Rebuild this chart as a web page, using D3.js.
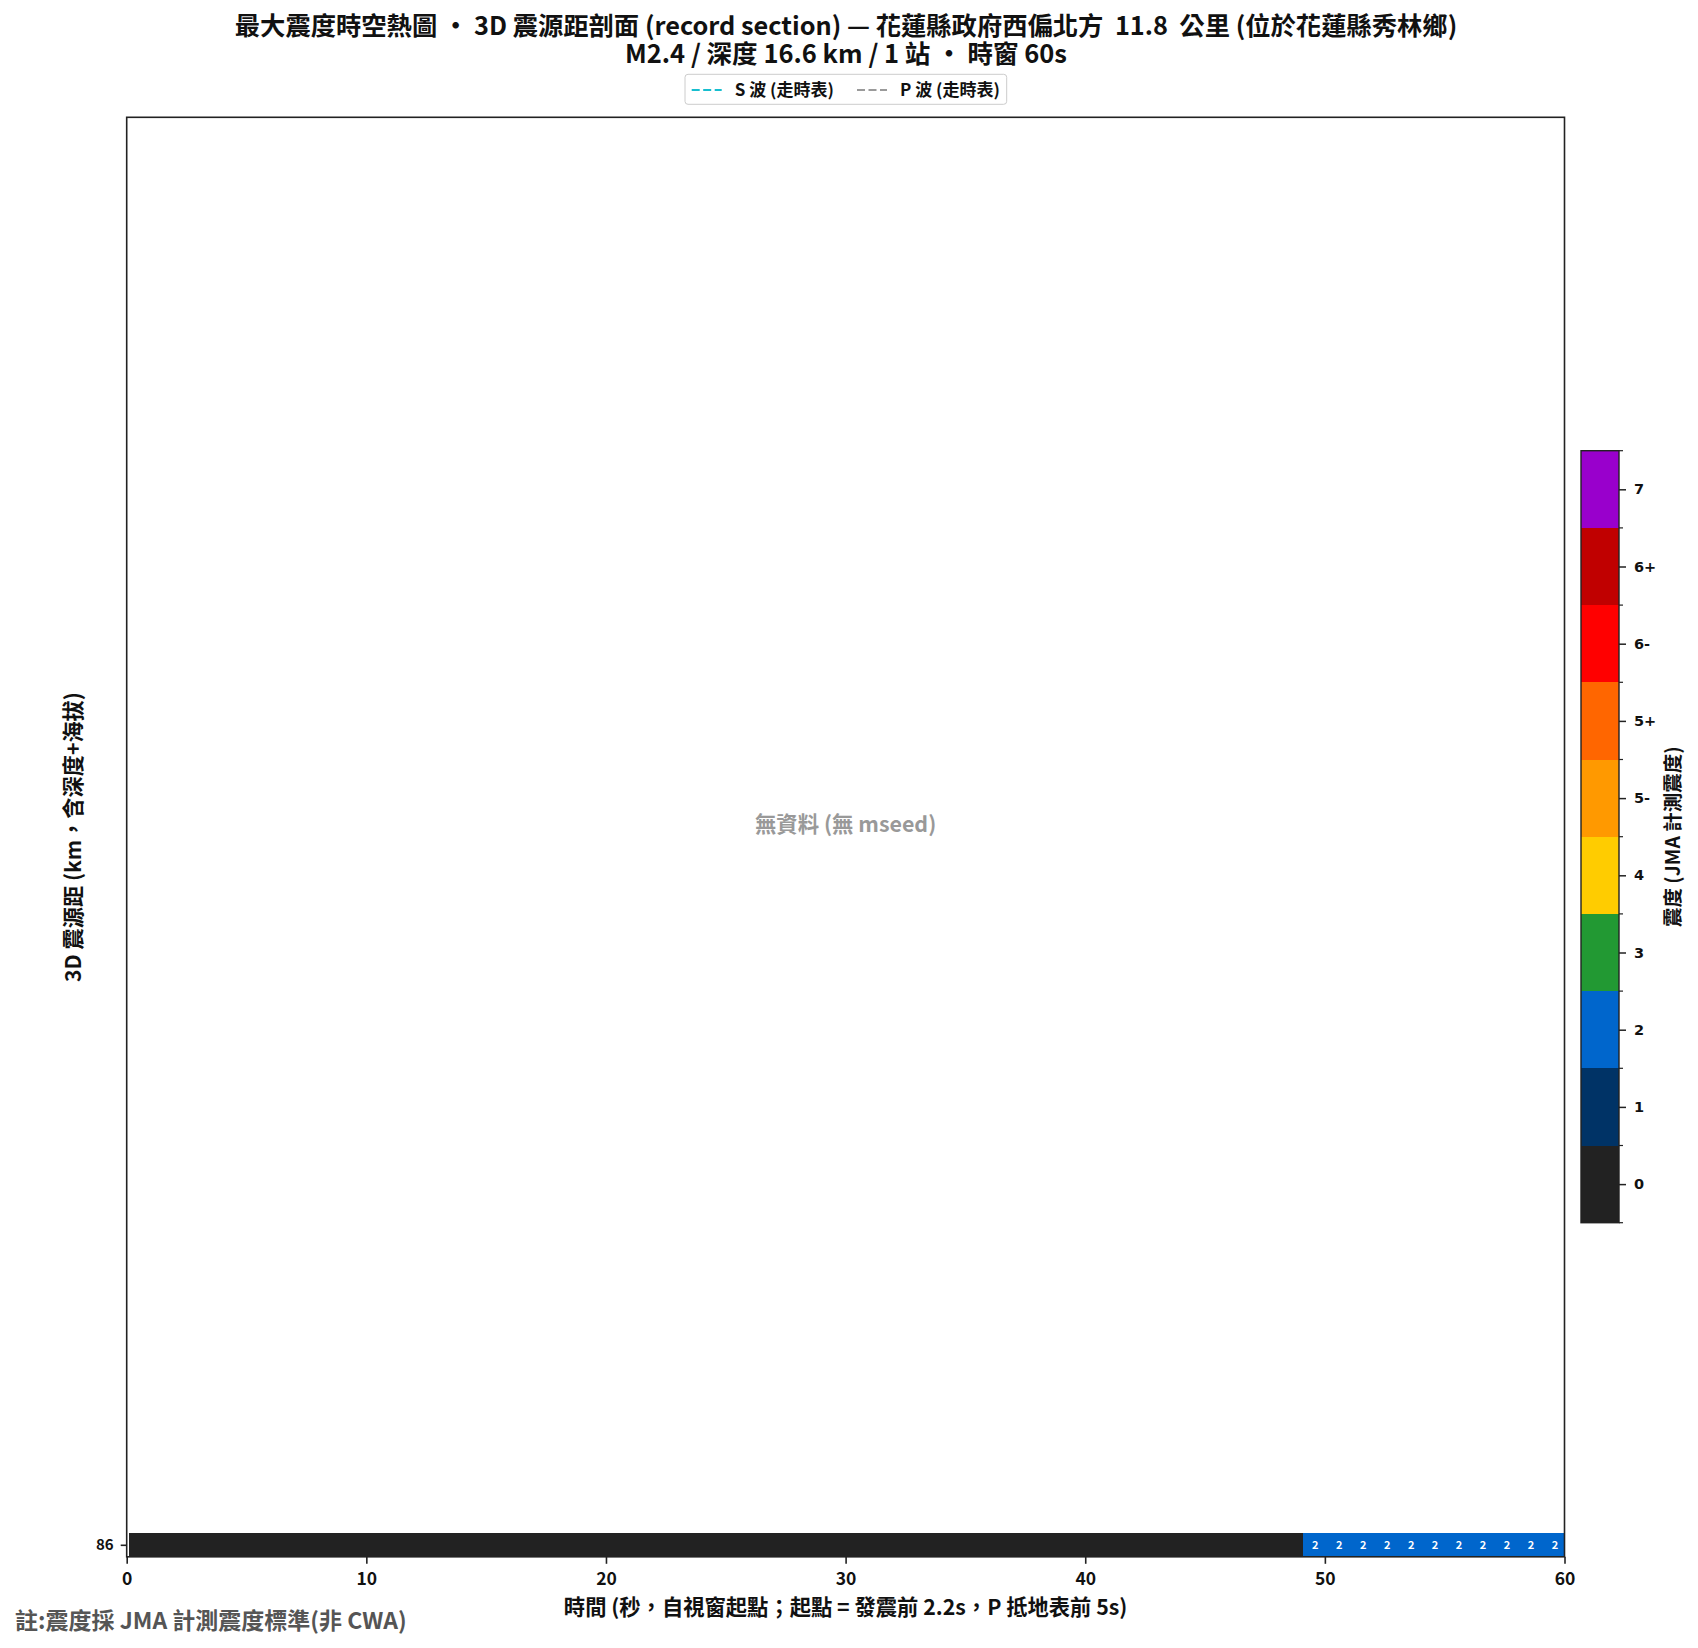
<!DOCTYPE html>
<html>
<head>
<meta charset="utf-8">
<script src="https://cdn.jsdelivr.net/npm/d3@7/dist/d3.min.js"></script>
<style>
  html, body { margin: 0; padding: 0; background: #fff; }
  svg { display: block; }
  text { font-weight: bold; }
</style>
</head>
<body>
<svg id="chart" width="1698" height="1648"></svg>
<script>
// ---------------- DATA ----------------
const titleLine1 = "最大震度時空熱圖 ・ 3D 震源距剖面 (record section) — 花蓮縣政府西偏北方  11.8  公里 (位於花蓮縣秀林鄉)";
const titleLine2 = "M2.4 / 深度 16.6 km / 1 站 ・ 時窗 60s";
const xLabel = "時間 (秒，自視窗起點；起點 = 發震前 2.2s，P 抵地表前 5s)";
const yLabel = "3D 震源距 (km，含深度+海拔)";
const cbLabel = "震度 (JMA 計測震度)";
const noDataText = "無資料 (無 mseed)";
const footnote = "註:震度採 JMA 計測震度標準(非 CWA)";
const legendItems = [
  { label: "S 波 (走時表)", color: "#17becf" },
  { label: "P 波 (走時表)", color: "#9a9a9a" }
];
const xTicks = [0, 10, 20, 30, 40, 50, 60];
const stationDist = [86];
// time-bin start (s) of each 1-s cell for the station row
const binStart = [0.1,1.1,2.1,3.1,4.1,5.1,6.1,7.1,8.1,9.1,10.1,11.1,12.1,13.1,14.1,15.1,16.1,17.1,18.1,19.1,
  20.1,21.1,22.1,23.1,24.1,25.1,26.1,27.1,28.1,29.1,30.1,31.1,32.1,33.1,34.1,35.1,36.1,37.1,38.1,39.1,
  40.1,41.1,42.1,43.1,44.1,45.1,46.1,47.1,48.1,49.1,50.1,51.1,52.1,53.1,54.1,55.1,56.1,57.1,58.1,59.1];
// intensity class index per cell (0 => "0", 2 => "2")
const cellClass = [0,0,0,0,0,0,0,0,0,0,0,0,0,0,0,0,0,0,0,0,
  0,0,0,0,0,0,0,0,0,0,0,0,0,0,0,0,0,0,0,0,
  0,0,0,0,0,0,0,0,0,2,2,2,2,2,2,2,2,2,2,2];
const classLabels = ["0","1","2","3","4","5-","5+","6-","6+","7"];
const classColors = ["#222222","#003366","#0066cc","#229933","#ffcc00","#ff9900","#ff6600","#ff0000","#c00000","#9900cc"];

// ---------------- LAYOUT ----------------
const CJK = "'Noto Sans CJK TC', 'Noto Sans CJK SC', sans-serif";
const DJV = "'DejaVu Sans', sans-serif";
const svg = d3.select("#chart");
const P = { left: 126.7, right: 1564.5, top: 117.3, bottom: 1556.8 };
const x = d3.scaleLinear().domain([0, 60]).range([P.left, P.right]);
const y = d3.scaleLinear().domain([85.5, 145.5]).range([P.bottom, P.top]);
const color = d3.scaleOrdinal().domain(d3.range(classLabels.length)).range(classColors);

function txt(sel, family, size) {
  return sel.style("font-family", family).style("font-size", size + "px").style("font-weight", "bold");
}

// clip
svg.append("defs").append("clipPath").attr("id", "plotclip")
  .append("rect").attr("x", P.left).attr("y", P.top)
  .attr("width", P.right - P.left).attr("height", P.bottom - P.top);

// cells
const cells = binStart.map((t, i) => ({ t, c: cellClass[i], d: stationDist[0] }));
const g = svg.append("g").attr("clip-path", "url(#plotclip)");
g.selectAll("rect.cell").data(cells).join("rect")
  .attr("class", "cell")
  .attr("x", d => x(d.t))
  .attr("width", d => x(d.t + 1) - x(d.t) + 0.4)
  .attr("y", d => y(d.d + 0.5))
  .attr("height", d => y(d.d - 0.5) - y(d.d + 0.5))
  .attr("fill", d => color(d.c))
  .attr("shape-rendering", "crispEdges");
txt(g.selectAll("text.cl").data(cells.filter(d => d.c > 0)).join("text")
  .attr("class", "cl")
  .attr("x", d => x(d.t + 0.5))
  .attr("y", d => y(d.d) + 4)
  .attr("text-anchor", "middle")
  .attr("fill", "#ffffff"), CJK, 11)
  .text(d => classLabels[d.c]);

// no-data text
txt(svg.append("text").attr("x", (P.left + P.right) / 2).attr("y", 832)
  .attr("text-anchor", "middle").attr("fill", "#999999"), CJK, 21.4)
  .text(noDataText);

// frame
svg.append("rect").attr("x", P.left).attr("y", P.top)
  .attr("width", P.right - P.left).attr("height", P.bottom - P.top)
  .attr("fill", "none").attr("stroke", "#222").attr("stroke-width", 1.6);

// x axis
const xAxis = svg.append("g").attr("transform", `translate(0,${P.bottom})`)
  .call(d3.axisBottom(x).tickValues(xTicks).tickSize(7).tickPadding(9).tickFormat(d3.format("d")));
xAxis.select(".domain").remove();
xAxis.selectAll("line").attr("stroke", "#222").attr("stroke-width", 1.6);
txt(xAxis.selectAll("text").attr("fill", "#111"), CJK, 17.5);

// y axis
const yAxis = svg.append("g").attr("transform", `translate(${P.left},0)`)
  .call(d3.axisLeft(y).tickValues(stationDist).tickSize(6).tickPadding(7).tickFormat(d3.format("d")));
yAxis.select(".domain").remove();
yAxis.selectAll("line").attr("stroke", "#222").attr("stroke-width", 1.6);
txt(yAxis.selectAll("text").attr("fill", "#111"), CJK, 15);

// axis labels
txt(svg.append("text").attr("x", (P.left + P.right) / 2).attr("y", 1615)
  .attr("text-anchor", "middle").attr("fill", "#111"), CJK, 21.3).text(xLabel);
txt(svg.append("text").attr("transform", `translate(81,${(P.top + P.bottom) / 2}) rotate(-90)`)
  .attr("text-anchor", "middle").attr("fill", "#111"), CJK, 21.2).text(yLabel);

// titles (one text block, two lines)
const title = txt(svg.append("text").attr("text-anchor", "middle")
  .attr("fill", "#111").style("white-space", "pre"), CJK, 25.3);
title.append("tspan").attr("x", 846).attr("y", 34.5).text(titleLine1);
title.append("tspan").attr("x", 846).attr("y", 63).style("font-size", "25.5px").text(titleLine2);

// legend
const L = { x: 685, y: 74.3, w: 321.7, h: 30 };
const lg = svg.append("g");
lg.append("rect").attr("x", L.x).attr("y", L.y).attr("width", L.w).attr("height", L.h)
  .attr("rx", 3).attr("fill", "#fff").attr("stroke", "#cccccc").attr("stroke-width", 1);
const legendX = [691.7, 857];
legendItems.forEach((it, i) => {
  lg.append("line").attr("x1", legendX[i]).attr("x2", legendX[i] + 30)
    .attr("y1", 90).attr("y2", 90).attr("stroke", it.color).attr("stroke-width", 2)
    .attr("stroke-dasharray", "8,3.5");
  txt(lg.append("text").attr("x", legendX[i] + 43).attr("y", 96)
    .attr("fill", "#111"), CJK, 17).text(it.label);
});

// colorbar
const CB = { x: 1581, w: 38, top: 450.7, bottom: 1222.7 };
const cy = d3.scaleLinear().domain([-0.5, classLabels.length - 0.5]).range([CB.bottom, CB.top]);
const cbg = svg.append("g");
cbg.selectAll("rect").data(d3.range(classLabels.length)).join("rect")
  .attr("x", CB.x).attr("width", CB.w)
  .attr("y", d => cy(d + 0.5)).attr("height", d => cy(d - 0.5) - cy(d + 0.5))
  .attr("fill", d => color(d)).attr("shape-rendering", "crispEdges");
cbg.append("rect").attr("x", CB.x).attr("y", CB.top).attr("width", CB.w).attr("height", CB.bottom - CB.top)
  .attr("fill", "none").attr("stroke", "#222").attr("stroke-width", 1.4);
// minor ticks at boundaries
const bounds = d3.range(classLabels.length + 1).map(i => i - 0.5);
cbg.selectAll("line.minor").data(bounds).join("line").attr("class", "minor")
  .attr("x1", CB.x + CB.w).attr("x2", CB.x + CB.w + 4)
  .attr("y1", d => cy(d)).attr("y2", d => cy(d))
  .attr("stroke", "#222").attr("stroke-width", 1.2);
const cbAxis = cbg.append("g").attr("transform", `translate(${CB.x + CB.w},0)`)
  .call(d3.axisRight(cy).tickValues(d3.range(classLabels.length)).tickSize(7).tickPadding(8)
    .tickFormat(i => classLabels[i]));
cbAxis.select(".domain").remove();
cbAxis.selectAll("line").attr("stroke", "#222").attr("stroke-width", 1.5);
txt(cbAxis.selectAll("text").attr("fill", "#111"), DJV, 14.5);
txt(svg.append("text").attr("transform", `translate(1680,${(CB.top + CB.bottom) / 2}) rotate(-90)`)
  .attr("text-anchor", "middle").attr("fill", "#111"), CJK, 19.5).text(cbLabel);

// footnote
txt(svg.append("text").attr("x", 15).attr("y", 1629).attr("fill", "#555555"), CJK, 23)
  .text(footnote);
</script>
</body>
</html>
